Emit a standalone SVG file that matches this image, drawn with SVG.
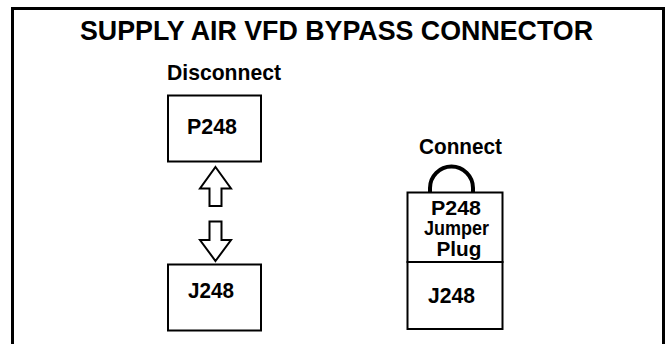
<svg xmlns="http://www.w3.org/2000/svg" width="666" height="344" viewBox="0 0 666 344">
<style>
.t{font-family:"Liberation Sans",Arial,sans-serif;font-weight:bold;fill:#000;text-anchor:middle}
.box{fill:#fff;stroke:#000;stroke-width:2}
.arr{fill:#fff;stroke:#000;stroke-width:2;stroke-linejoin:miter}
</style>
<rect x="0" y="0" width="666" height="344" fill="#fff"/>
<rect x="12.5" y="8.5" width="651" height="400" fill="none" stroke="#000" stroke-width="3"/>
<text class="t" x="336.5" y="40" font-size="28" textLength="513" lengthAdjust="spacingAndGlyphs">SUPPLY AIR VFD BYPASS CONNECTOR</text>
<text class="t" x="224" y="80" font-size="22" textLength="114" lengthAdjust="spacingAndGlyphs">Disconnect</text>
<text class="t" x="460.5" y="154" font-size="22" textLength="83" lengthAdjust="spacingAndGlyphs">Connect</text>
<g id="p248-left">
<rect class="box" x="168" y="95.5" width="93" height="66"/>
<text class="t" x="212" y="134" font-size="22" textLength="50" lengthAdjust="spacingAndGlyphs">P248</text>
</g>
<g id="j248-left">
<rect class="box" x="168" y="264.5" width="93" height="66"/>
<text class="t" x="211" y="298" font-size="22" textLength="46" lengthAdjust="spacingAndGlyphs">J248</text>
</g>
<g id="connectors">
<path class="arr" d="M215.5,167 L231,188.5 L221.5,188.5 L221.5,206 L209.5,206 L209.5,188.5 L200,188.5 Z"/>
<path class="arr" d="M215.5,261 L231,240 L221.5,240 L221.5,221.5 L209.5,221.5 L209.5,240 L200,240 Z"/>
</g>
<g id="jumper">
<path d="M430,193 L430,188 A21.5,21.5 0 0 1 473,188 L473,195" fill="none" stroke="#000" stroke-width="4"/>
</g>
<g id="p248-right">
<rect class="box" x="407.5" y="192.5" width="95" height="69.5"/>
<text class="t" x="456" y="215" font-size="21" textLength="50" lengthAdjust="spacingAndGlyphs">P248</text>
<text class="t" x="456.5" y="235" font-size="21" textLength="65" lengthAdjust="spacingAndGlyphs">Jumper</text>
<text class="t" x="459" y="255.5" font-size="21" textLength="45" lengthAdjust="spacingAndGlyphs">Plug</text>
</g>
<g id="j248-right">
<rect class="box" x="407.5" y="262" width="95" height="67"/>
<text class="t" x="451.5" y="303" font-size="22" textLength="47" lengthAdjust="spacingAndGlyphs">J248</text>
</g>
</svg>
